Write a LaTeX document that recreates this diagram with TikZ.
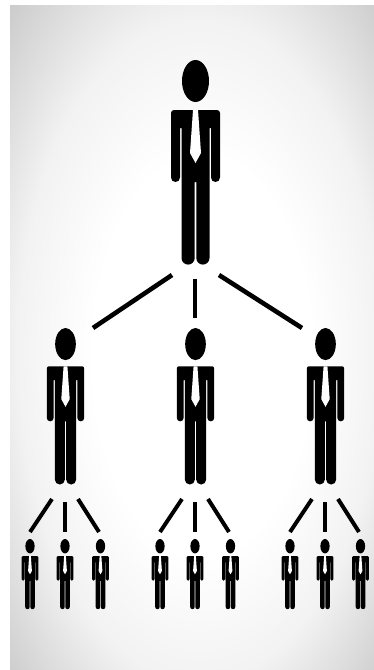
\documentclass[tikz,border=0pt]{standalone}
\pgfdeclareradialshading{backglow}{\pgfpoint{2bp}{-2bp}}{color(0bp)=(white); color(15bp)=(white); color(25bp)=(black!5); color(36bp)=(black!20); color(50bp)=(black!25)}
\tikzset{
  link/.style={line width=4.6pt},
  sublink/.style={line width=4pt},
  person/.pic={
    \fill (0,-21) ellipse [x radius=13.5,y radius=21];
    \fill (-24.5,-53) arc[start angle=180,end angle=90,radius=3] -- (21.5,-50)
      arc[start angle=90,end angle=0,radius=3] -- (24.5,-117.5)
      arc[start angle=0,end angle=-180,radius=4.5] -- (15.5,-68) -- (14,-68) -- (14,-198)
      arc[start angle=0,end angle=-180,radius=6.6] -- (0.8,-122) -- (-0.8,-122) -- (-0.8,-198)
      arc[start angle=0,end angle=-180,radius=6.6] -- (-14,-68) -- (-15.5,-68) -- (-15.5,-117.5)
      arc[start angle=0,end angle=-180,radius=4.5] -- cycle;
    \fill[white] (-2.5,-50) -- (2.5,-50) -- (5.5,-93) -- (0,-103) -- (-5.5,-93) -- cycle;
  }
}
\begin{document}
\begin{tikzpicture}[x=1pt,y=1pt]
  \useasboundingbox (0,0) rectangle (374,-670);
  \shade[shading=backglow] (10,-5) rectangle (374,-670);
  % top level
  \pic at (195.5,-60) {person};
  \coordinate (bossL) at (172,-275);
  \coordinate (bossM) at (195,-279);
  \coordinate (bossR) at (219,-275);
  \coordinate (leadL) at (93,-328);
  \coordinate (leadM) at (195,-318);
  \coordinate (leadR) at (302,-328);
  \draw[link] (bossL) -- (leadL);
  \draw[link] (bossM) -- (leadM);
  \draw[link] (bossR) -- (leadR);
  % middle and bottom levels
  \foreach \n/\x in {a/0,b/130,c/260} {
    \pic[scale=.765] at (65.5+\x,-328) {person};
    \pic[scale=.343] at (30+\x,-539) {person};
    \pic[scale=.343] at (65+\x,-539) {person};
    \pic[scale=.343] at (100.5+\x,-539) {person};
    \coordinate (\n topL) at (52+\x,-499);
    \coordinate (\n topM) at (65+\x,-502);
    \coordinate (\n topR) at (78+\x,-499);
    \coordinate (\n endL) at (30+\x,-532);
    \coordinate (\n endM) at (65+\x,-532);
    \coordinate (\n endR) at (99+\x,-532);
    \draw[sublink] (\n topL) -- (\n endL);
    \draw[sublink] (\n topM) -- (\n endM);
    \draw[sublink] (\n topR) -- (\n endR);
  }
\end{tikzpicture}
\end{document}
